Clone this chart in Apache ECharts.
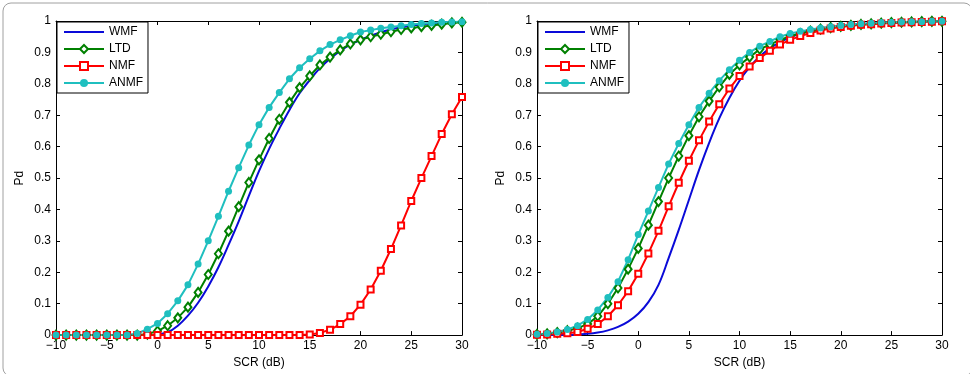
<!DOCTYPE html>
<html>
<head>
<meta charset="utf-8">
<script src="https://cdn.jsdelivr.net/npm/echarts@6/dist/echarts.min.js"></script>
<style>
  html, body { margin: 0; padding: 0; background: #fff; }
  #chart { width: 970px; height: 374px; }
</style>
</head>
<body>
<div id="chart"></div>
<script>
// SCR (dB) samples
var scr = [-10, -9, -8, -7, -6, -5, -4, -3, -2, -1, 0, 1, 2, 3, 4, 5, 6, 7, 8, 9, 10,
  11, 12, 13, 14, 15, 16, 17, 18, 19, 20, 21, 22, 23, 24, 25, 26, 27, 28, 29, 30]
var names = ['WMF', 'LTD', 'NMF', 'ANMF']

// 左图
var wmfL = [0, 0, 0, 0, 0, 0, 0, 0, 0, 0, 0.002, 0.009, 0.03, 0.062, 0.103, 0.155, 0.216, 0.287, 0.362, 0.443, 0.522,
  0.593, 0.657, 0.717, 0.77, 0.812, 0.85, 0.88, 0.905, 0.925, 0.94, 0.953, 0.964, 0.973, 0.98, 0.985, 0.989, 0.992, 0.995, 0.997, 0.998]
var ltdL = [0, 0, 0, 0, 0, 0, 0, 0, 0, 0.003, 0.013, 0.03, 0.055, 0.089, 0.136, 0.193, 0.259, 0.331, 0.409, 0.486, 0.558,
  0.626, 0.687, 0.741, 0.788, 0.825, 0.86, 0.885, 0.908, 0.927, 0.94, 0.95, 0.958, 0.966, 0.973, 0.978, 0.982, 0.986, 0.99, 0.994, 0.996]
var nmfL = [0, 0, 0, 0, 0, 0, 0, 0, 0, 0, 0, 0, 0, 0, 0, 0, 0, 0, 0, 0, 0,
  0, 0, 0, 0, 0.002, 0.007, 0.017, 0.035, 0.06, 0.097, 0.145, 0.205, 0.274, 0.349, 0.427, 0.5, 0.57, 0.64, 0.703, 0.758]
var anmfL = [0, 0, 0, 0, 0, 0, 0, 0, 0.005, 0.019, 0.037, 0.068, 0.109, 0.16, 0.226, 0.3, 0.378, 0.458, 0.533, 0.605, 0.67,
  0.725, 0.772, 0.816, 0.851, 0.88, 0.905, 0.925, 0.94, 0.953, 0.965, 0.971, 0.977, 0.981, 0.985, 0.989, 0.992, 0.994, 0.996, 0.997, 0.998]

// 右图
var wmfR = [0, 0, 0, 0, 0.002, 0.004, 0.008, 0.015, 0.026, 0.043, 0.068, 0.105, 0.16, 0.245, 0.335, 0.43, 0.525, 0.612, 0.69, 0.755, 0.81,
  0.853, 0.887, 0.913, 0.933, 0.948, 0.96, 0.969, 0.976, 0.981, 0.985, 0.988, 0.99, 0.992, 0.994, 0.995, 0.996, 0.997, 0.998, 0.999, 0.999]
var ltdR = [0.002, 0.004, 0.008, 0.014, 0.022, 0.035, 0.06, 0.1, 0.15, 0.21, 0.276, 0.35, 0.425, 0.5, 0.57, 0.635, 0.695, 0.745, 0.79, 0.83, 0.86,
  0.885, 0.91, 0.925, 0.94, 0.952, 0.96, 0.968, 0.974, 0.979, 0.983, 0.986, 0.989, 0.991, 0.993, 0.995, 0.996, 0.997, 0.998, 0.999, 0.999]
var nmfR = [0.001, 0.002, 0.004, 0.006, 0.01, 0.02, 0.035, 0.06, 0.095, 0.14, 0.195, 0.26, 0.332, 0.41, 0.485, 0.555, 0.62, 0.68, 0.735, 0.785, 0.825,
  0.855, 0.882, 0.905, 0.925, 0.94, 0.952, 0.962, 0.97, 0.976, 0.981, 0.985, 0.988, 0.99, 0.992, 0.994, 0.995, 0.996, 0.997, 0.998, 0.999]
var anmfR = [0.003, 0.005, 0.01, 0.018, 0.03, 0.05, 0.08, 0.12, 0.17, 0.24, 0.32, 0.395, 0.47, 0.545, 0.61, 0.67, 0.725, 0.77, 0.81, 0.845, 0.875,
  0.9, 0.92, 0.935, 0.95, 0.96, 0.967, 0.973, 0.978, 0.982, 0.986, 0.989, 0.991, 0.993, 0.995, 0.996, 0.997, 0.998, 0.998, 0.999, 0.999]

var font = 'Liberation Sans, Arial, sans-serif'
var colors = { WMF: '#0a0ad8', LTD: '#008000', NMF: '#ff0000', ANMF: '#1fbfbf' }

function pairs(arr) {
  return scr.map((x, i) => [x, arr[i]])
}

function axisPair(gi) {
  var tick = { show: true, inside: true, length: 4, lineStyle: { color: '#000', width: 1 } }
  var line = { show: true, onZero: false, lineStyle: { color: '#000', width: 1 } }
  return {
    x: [
      {
        type: 'value', gridIndex: gi, min: -10, max: 30, interval: 5,
        axisLine: line, axisTick: tick, splitLine: { show: false },
        axisLabel: {
          color: '#000', fontSize: 12, fontFamily: font, margin: 5,
          formatter: v => String(v).replace('-', '\u2212')
        },
        name: 'SCR (dB)', nameLocation: 'middle', nameGap: 19,
        nameTextStyle: { color: '#000', fontSize: 12, fontFamily: font }
      },
      {
        type: 'value', gridIndex: gi, position: 'top', min: -10, max: 30, interval: 5,
        axisLine: line, axisTick: tick, axisLabel: { show: false }, splitLine: { show: false }
      }
    ],
    y: [
      {
        type: 'value', gridIndex: gi, min: 0, max: 1, interval: 0.1,
        axisLine: line, axisTick: tick, splitLine: { show: false },
        axisLabel: { color: '#000', fontSize: 12, fontFamily: font, margin: 5 },
        name: 'Pd', nameLocation: 'middle', nameGap: 30,
        nameTextStyle: { color: '#000', fontSize: 12, fontFamily: font }
      },
      {
        type: 'value', gridIndex: gi, position: 'right', min: 0, max: 1, interval: 0.1,
        axisLine: line, axisTick: tick, axisLabel: { show: false }, splitLine: { show: false }
      }
    ]
  }
}

function makeSeries(gi, wmf, ltd, nmf, anmf) {
  var ax = gi * 2
  return [
    {
      name: 'WMF', type: 'line', xAxisIndex: ax, yAxisIndex: ax, smooth: 0.4,
      showSymbol: false, symbol: 'none', color: colors.WMF,
      lineStyle: { width: 2 }, data: pairs(wmf)
    },
    {
      name: 'LTD', type: 'line', xAxisIndex: ax, yAxisIndex: ax,
      symbol: 'diamond', symbolSize: [7, 9], color: colors.LTD,
      itemStyle: { color: '#fff', borderColor: colors.LTD, borderWidth: 2 },
      lineStyle: { width: 2, color: colors.LTD }, data: pairs(ltd)
    },
    {
      name: 'NMF', type: 'line', xAxisIndex: ax, yAxisIndex: ax,
      symbol: 'rect', symbolSize: 6, color: colors.NMF,
      itemStyle: { color: '#fff', borderColor: colors.NMF, borderWidth: 2 },
      lineStyle: { width: 2, color: colors.NMF }, data: pairs(nmf)
    },
    {
      name: 'ANMF', type: 'line', xAxisIndex: ax, yAxisIndex: ax,
      symbol: 'circle', symbolSize: 7, color: colors.ANMF,
      itemStyle: { color: colors.ANMF },
      lineStyle: { width: 2, color: colors.ANMF }, data: pairs(anmf)
    }
  ]
}

function makeLegend(left) {
  return {
    data: [
      { name: 'WMF', itemStyle: { opacity: 0 } },
      'LTD', 'NMF', 'ANMF'
    ],
    orient: 'vertical', left: left, top: 22,
    itemWidth: 40, itemHeight: 10, itemGap: 5,
    padding: [4, 5, 4, 6],
    backgroundColor: '#fff', borderColor: '#000', borderWidth: 1, borderRadius: 0,
    selectedMode: false,
    textStyle: { color: '#000', fontSize: 12, fontFamily: font }
  }
}

var a0 = axisPair(0)
var a1 = axisPair(1)

var option = {
  animation: false,
  backgroundColor: '#fff',
  graphic: [{
    type: 'rect', left: 0.5, top: 0.5,
    shape: { width: 969, height: 373, r: 8 },
    style: { fill: 'none', stroke: '#a0a0a0', lineWidth: 1 }
  }],
  grid: [
    { left: 56, right: 508, top: 21, bottom: 34, containLabel: false },
    { left: 537, right: 28, top: 21, bottom: 34, containLabel: false }
  ],
  legend: [makeLegend(57), makeLegend(538)],
  xAxis: a0.x.concat(a1.x),
  yAxis: a0.y.concat(a1.y),
  series: makeSeries(0, wmfL, ltdL, nmfL, anmfL).concat(makeSeries(1, wmfR, ltdR, nmfR, anmfR))
}

// 右轴/上轴索引修正
option.xAxis[2].gridIndex = 1
option.xAxis[3].gridIndex = 1
option.yAxis[2].gridIndex = 1
option.yAxis[3].gridIndex = 1

let chart = echarts.init(document.getElementById('chart'))
chart.setOption(option)
</script>
</body>
</html>
